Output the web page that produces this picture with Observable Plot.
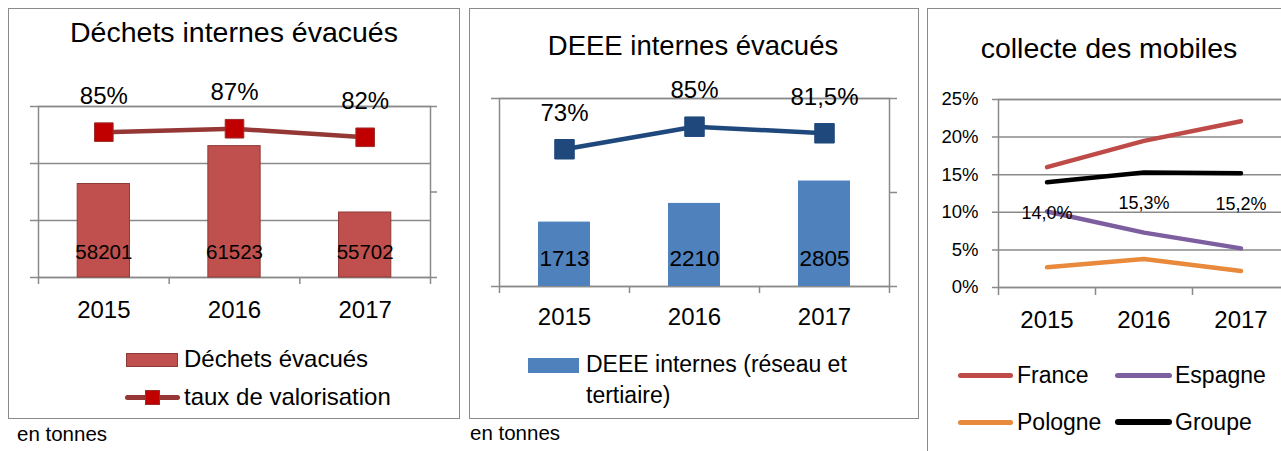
<!DOCTYPE html>
<html><head><meta charset="utf-8">
<script src="https://cdn.jsdelivr.net/npm/d3@7"></script>
<script src="https://cdn.jsdelivr.net/npm/@observablehq/plot@0.6"></script>
<style>
body{margin:0;width:1281px;height:451px;overflow:hidden;position:relative;background:#fff;font-family:"Liberation Sans",Arial,Helvetica,sans-serif;color:#000}
.box{position:absolute;border:1.5px solid #8a8a8a;box-sizing:border-box}
.t{position:absolute;white-space:nowrap;line-height:1;transform:translate(-50%,-50%)}
.l{position:absolute;white-space:nowrap;line-height:1;transform:translateY(-50%)}
.sw{position:absolute;box-sizing:border-box}
</style></head><body>
<div class="box" style="left:8px;top:8px;width:452px;height:411px"></div>
<div class="box" style="left:469px;top:8px;width:450px;height:411px"></div>
<div class="box" style="left:927px;top:8px;width:400px;height:500px"></div>

<div class="t" style="left:234px;top:32px;font-size:28.5px">Déchets internes évacués</div>
<div class="t" style="left:693px;top:46px;font-size:27.5px">DEEE internes évacués</div>
<div class="t" style="left:1109px;top:48px;font-size:28.5px">collecte des mobiles</div>

<!-- legend panel 1 -->
<div class="sw" style="left:126px;top:353px;width:52px;height:14px;background:#C0504D;border:1px solid #8E3A38"></div>
<div class="l" style="left:184px;top:359px;font-size:24px">Déchets évacués</div>
<div class="sw" style="left:125px;top:395px;width:55px;height:5px;border-radius:2.5px;background:#953735"></div>
<div class="sw" style="left:145px;top:390px;width:15px;height:15px;background:#C00000;border:1px solid #9B2D2B"></div>
<div class="l" style="left:184px;top:397px;font-size:24px">taux de valorisation</div>

<!-- legend panel 2 -->
<div class="sw" style="left:528px;top:358px;width:51px;height:15px;background:#4F81BD"></div>
<div class="l" style="left:586px;top:364px;font-size:23px">DEEE internes (réseau et</div>
<div class="l" style="left:586px;top:395px;font-size:23px">tertiaire)</div>

<!-- legend panel 3 -->
<div class="sw" style="left:958px;top:373px;width:55px;height:5px;border-radius:2.5px;background:#BE4B48"></div>
<div class="l" style="left:1017px;top:375px;font-size:23px">France</div>
<div class="sw" style="left:1115px;top:373px;width:57px;height:5px;border-radius:2.5px;background:#7D5FA0"></div>
<div class="l" style="left:1175px;top:375px;font-size:23px">Espagne</div>
<div class="sw" style="left:958px;top:420px;width:55px;height:5px;border-radius:2.5px;background:#E8893C"></div>
<div class="l" style="left:1017px;top:422px;font-size:23px">Pologne</div>
<div class="sw" style="left:1115px;top:419px;width:57px;height:6px;border-radius:3px;background:#000"></div>
<div class="l" style="left:1175px;top:422px;font-size:23px">Groupe</div>

<div class="l" style="left:17px;top:434px;font-size:20.5px">en tonnes</div>
<div class="l" style="left:470px;top:433px;font-size:20.5px">en tonnes</div>

<script>
// ---- data ----
const years = ["2015", "2016", "2017"];
const dechetsEvacues = [58201, 61523, 55702];
const tauxValorisation = [85, 87, 82];
const tauxValorisationLabels = ["85%", "87%", "82%"];
const deeeInternes = [1713, 2210, 2805];
const tauxDeee = [73, 85, 81.5];
const tauxDeeeLabels = ["73%", "85%", "81,5%"];
const seriesNames = ["France", "Espagne", "Pologne", "Groupe"];
const france = [16.0, 19.5, 22.1];
const espagne = [10.1, 7.3, 5.2];
const pologne = [2.7, 3.8, 2.2];
const groupe = [14.0, 15.3, 15.2];
const groupeLabels = ["14,0%", "15,3%", "15,2%"];
const y1Ticks = [50000, 55000, 60000, 65000];
const y2Ticks = [0, 5000];
const y3Ticks = [0, 5, 10, 15, 20, 25];

// ---- styles ----
const FONT = '"Liberation Sans", Arial, Helvetica, sans-serif';
const GRID = "#8a8a8a";
const seriesColors = ["#BE4B48", "#7D5FA0", "#E8893C", "#000000"];

function place(svg, left, top) {
  svg.style.position = "absolute";
  svg.style.left = left + "px";
  svg.style.top = top + "px";
  svg.style.background = "transparent";
  svg.style.maxWidth = "none";
  document.body.appendChild(svg);
}

// ---- panel 1 ----
{
  const d = years.map((y, i) => ({year: y, value: dechetsEvacues[i], pct: tauxValorisation[i], label: tauxValorisationLabels[i]}));
  const lo = y1Ticks[0], hi = y1Ticks[y1Ticks.length - 1];
  const py = p => lo + p / 100 * (hi - lo);
  const W = 460, H = 340, ml = 38, mr = 30, mt = 106, mb = 63;
  const pw = W - ml - mr, step = pw / years.length;
  const svg = Plot.plot({
    width: W, height: H, marginLeft: ml, marginRight: mr, marginTop: mt, marginBottom: mb,
    style: {fontFamily: FONT, background: "transparent", color: "#000"},
    x: {type: "band", domain: years, paddingInner: 0.6, paddingOuter: 0.3, round: false, axis: null},
    y: {domain: [lo, hi], axis: null},
    marks: [
      Plot.ruleY(y1Ticks, {y: v => v, stroke: GRID, strokeWidth: 1.5, insetLeft: -8}),
      Plot.ruleY([py(0), py(50), py(100)], {y: v => v, stroke: GRID, strokeWidth: 1.5, insetLeft: pw, insetRight: -7}),
      Plot.frame({stroke: GRID, strokeWidth: 1.5}),
      Plot.ruleX(years, {x: v => v, y1: () => lo, y2: () => lo, insetBottom: -7, dx: -step / 2, stroke: GRID, strokeWidth: 1.5}),
      Plot.ruleX([years[years.length - 1]], {x: v => v, y1: () => lo, y2: () => lo, insetBottom: -7, dx: step / 2, stroke: GRID, strokeWidth: 1.5}),
      Plot.barY(d, {x: "year", y1: () => lo, y2: "value", fill: "#C0504D", stroke: "#8E3A38", strokeWidth: 1}),
      Plot.text(d, {x: "year", y: () => lo, text: r => String(r.value), dy: -25, fontSize: 20.5}),
      Plot.line(d, {x: "year", y: r => py(r.pct), stroke: "#953735", strokeWidth: 4.5}),
      Plot.dot(d, {x: "year", y: r => py(r.pct), symbol: "square", r: 10.5, fill: "#C00000", stroke: "#9B2D2B", strokeWidth: 1}),
      Plot.text(d, {x: "year", y: r => py(r.pct), text: "label", dy: -36, fontSize: 24}),
      Plot.text(years, {x: v => v, y: () => lo, text: v => v, dy: 33, fontSize: 24})
    ]
  });
  place(svg, 0, 0);
}

// ---- panel 2 ----
{
  const d = years.map((y, i) => ({year: y, value: deeeInternes[i], pct: tauxDeee[i], label: tauxDeeeLabels[i]}));
  const lo = y2Ticks[0], hi = y2Ticks[y2Ticks.length - 1];
  const py = p => lo + p / 100 * (hi - lo);
  const W = 470, H = 350, ml = 39, mr = 41, mt = 98, mb = 64;
  const pw = W - ml - mr, step = pw / years.length;
  const svg = Plot.plot({
    width: W, height: H, marginLeft: ml, marginRight: mr, marginTop: mt, marginBottom: mb,
    style: {fontFamily: FONT, background: "transparent", color: "#000"},
    x: {type: "band", domain: years, paddingInner: 0.6, paddingOuter: 0.3, round: false, axis: null},
    y: {domain: [lo, hi], axis: null},
    marks: [
      Plot.ruleY(y2Ticks, {y: v => v, stroke: GRID, strokeWidth: 1.5, insetLeft: -8}),
      Plot.ruleY([py(0), py(50), py(100)], {y: v => v, stroke: GRID, strokeWidth: 1.5, insetLeft: pw, insetRight: -8}),
      Plot.frame({stroke: GRID, strokeWidth: 1.5}),
      Plot.ruleX(years, {x: v => v, y1: () => lo, y2: () => lo, insetBottom: -7, dx: -step / 2, stroke: GRID, strokeWidth: 1.5}),
      Plot.ruleX([years[years.length - 1]], {x: v => v, y1: () => lo, y2: () => lo, insetBottom: -7, dx: step / 2, stroke: GRID, strokeWidth: 1.5}),
      Plot.barY(d, {x: "year", y1: () => lo, y2: "value", fill: "#4F81BD"}),
      Plot.text(d, {x: "year", y: () => lo, text: r => String(r.value), dy: -28, fontSize: 22.5}),
      Plot.line(d, {x: "year", y: r => py(r.pct), stroke: "#1F497D", strokeWidth: 4.5}),
      Plot.dot(d, {x: "year", y: r => py(r.pct), symbol: "square", r: 11, fill: "#1F497D", stroke: "#1F497D", strokeWidth: 1}),
      Plot.text(d, {x: "year", y: r => py(r.pct), text: "label", dy: -36, fontSize: 24}),
      Plot.text(years, {x: v => v, y: () => lo, text: v => v, dy: 31, fontSize: 24})
    ]
  });
  place(svg, 460, 0);
}

// ---- panel 3 ----
{
  const values = [france, espagne, pologne, groupe];
  const d = [];
  seriesNames.forEach((s, k) => years.forEach((y, i) => d.push({series: s, year: y, v: values[k][i]})));
  const g = years.map((y, i) => ({year: y, v: groupe[i], label: groupeLabels[i]}));
  const lo = y3Ticks[0], hi = y3Ticks[y3Ticks.length - 1];
  const W = 380, H = 340, ml = 78, mr = 11, mt = 99, mb = 53;
  const pw = W - ml - mr, step = pw / years.length;
  const svg = Plot.plot({
    width: W, height: H, marginLeft: ml, marginRight: mr, marginTop: mt, marginBottom: mb,
    style: {fontFamily: FONT, background: "transparent", color: "#000"},
    x: {type: "band", domain: years, padding: 0, round: false, axis: null},
    y: {domain: [lo, hi], axis: null},
    color: {domain: seriesNames, range: seriesColors},
    marks: [
      Plot.ruleY(y3Ticks, {y: v => v, stroke: GRID, strokeWidth: 1.5, insetLeft: -6}),
      Plot.frame({stroke: GRID, strokeWidth: 1.5}),
      Plot.ruleX(years, {x: v => v, y1: () => lo, y2: () => lo, insetBottom: -8, dx: -step / 2, stroke: GRID, strokeWidth: 1.5}),
      Plot.text(y3Ticks, {y: v => v, text: v => v + "%", frameAnchor: "left", textAnchor: "end", dx: -20, fontSize: 18.5}),
      Plot.line(d, {x: "year", y: "v", z: "series", stroke: "series", strokeWidth: 4.5, strokeLinecap: "round"}),
      Plot.text(g, {x: "year", y: "v", text: "label", dy: 31, fontSize: 18}),
      Plot.text(years, {x: v => v, y: () => lo, text: v => v, dy: 33, fontSize: 24})
    ]
  });
  place(svg, 920, 0);
}
</script>
</body></html>
